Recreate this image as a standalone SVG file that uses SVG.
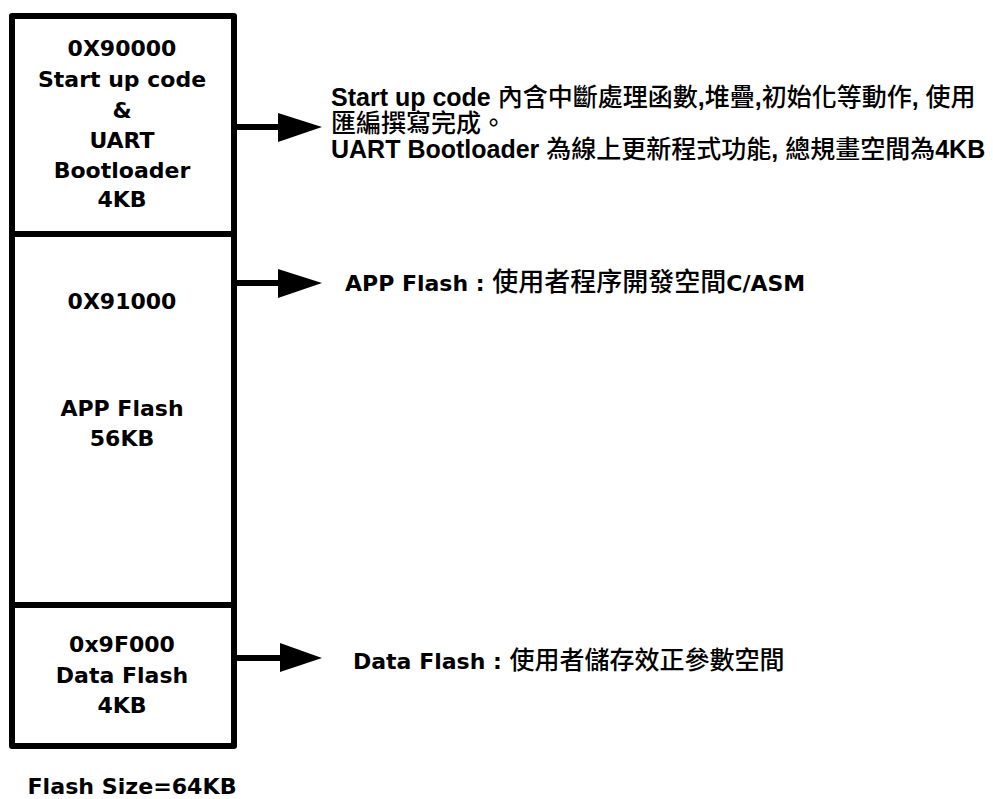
<svg xmlns="http://www.w3.org/2000/svg" width="993" height="799" viewBox="0 0 993 799">
<style>
  .box { fill: #fff; stroke: #000; stroke-width: 6; stroke-linejoin: round; }
  .lbl { font-family: "DejaVu Sans", "Noto Sans CJK TC", sans-serif; font-weight: bold; font-size: 22px; fill: #000; text-anchor: middle; }
  .note { font-family: "Liberation Sans", "Noto Sans CJK TC", sans-serif; font-weight: bold; font-size: 25px; fill: #000; }
  .cjk { font-family: "Noto Sans CJK TC", sans-serif; font-weight: 500; }
  .note2 { font-family: "DejaVu Sans", "Noto Sans CJK TC", sans-serif; font-weight: bold; font-size: 22px; fill: #000; }
  .line { stroke: #000; stroke-width: 6; fill: none; }
  .head { fill: #000; }
</style>
<rect width="993" height="799" fill="#fff"/>
<g id="startup">
  <rect class="box" x="12" y="16" width="222" height="218"/>
  <text class="lbl" x="122" y="56">0X90000</text>
  <text class="lbl" x="122" y="87">Start up code</text>
  <text class="lbl" x="122" y="118">&amp;</text>
  <text class="lbl" x="122" y="148">UART</text>
  <text class="lbl" x="122" y="178">Bootloader</text>
  <text class="lbl" x="122" y="207">4KB</text>
</g>
<g id="app">
  <rect class="box" x="12" y="234" width="222" height="371"/>
  <text class="lbl" x="122" y="309">0X91000</text>
  <text class="lbl" x="122" y="416">APP Flash</text>
  <text class="lbl" x="122" y="446">56KB</text>
</g>
<g id="data">
  <rect class="box" x="12" y="605" width="222" height="141"/>
  <text class="lbl" x="122" y="652">0x9F000</text>
  <text class="lbl" x="122" y="683">Data Flash</text>
  <text class="lbl" x="122" y="713">4KB</text>
</g>
<g id="size">
  <text class="lbl" x="132" y="794" textLength="209" lengthAdjust="spacingAndGlyphs">Flash Size=64KB</text>
</g>
<g id="connectors">
  <line class="line" x1="237" y1="127" x2="282" y2="127"/>
  <polygon class="head" points="278,113 322,127 278,142"/>
  <line class="line" x1="237" y1="283" x2="282" y2="283"/>
  <polygon class="head" points="278,269 322,283 278,298"/>
  <line class="line" x1="237" y1="658" x2="282" y2="658"/>
  <polygon class="head" points="280,643 322,658 280,672"/>
</g>
<g id="note-startup">
  <text class="note" x="331" y="106"><tspan x="331" y="106">Start up code <tspan class="cjk">內含中斷處理函數</tspan>,<tspan class="cjk">堆疊</tspan>,<tspan class="cjk">初始化等動作</tspan>, <tspan class="cjk">使用</tspan></tspan><tspan x="331" y="132" class="cjk">匯編撰寫完成。</tspan><tspan x="331" y="158">UART Bootloader <tspan class="cjk">為線上更新程式功能</tspan>, <tspan class="cjk">總規畫空間為</tspan>4KB</tspan></text>
</g>
<g id="note-app">
  <text class="note2" x="345" y="291">APP Flash : <tspan class="cjk" font-size="26">使用者程序開發空間</tspan>C/ASM</text>
</g>
<g id="note-data">
  <text class="note2" x="353" y="669">Data Flash : <tspan class="cjk" font-size="25">使用者儲存效正參數空間</tspan></text>
</g>
</svg>
